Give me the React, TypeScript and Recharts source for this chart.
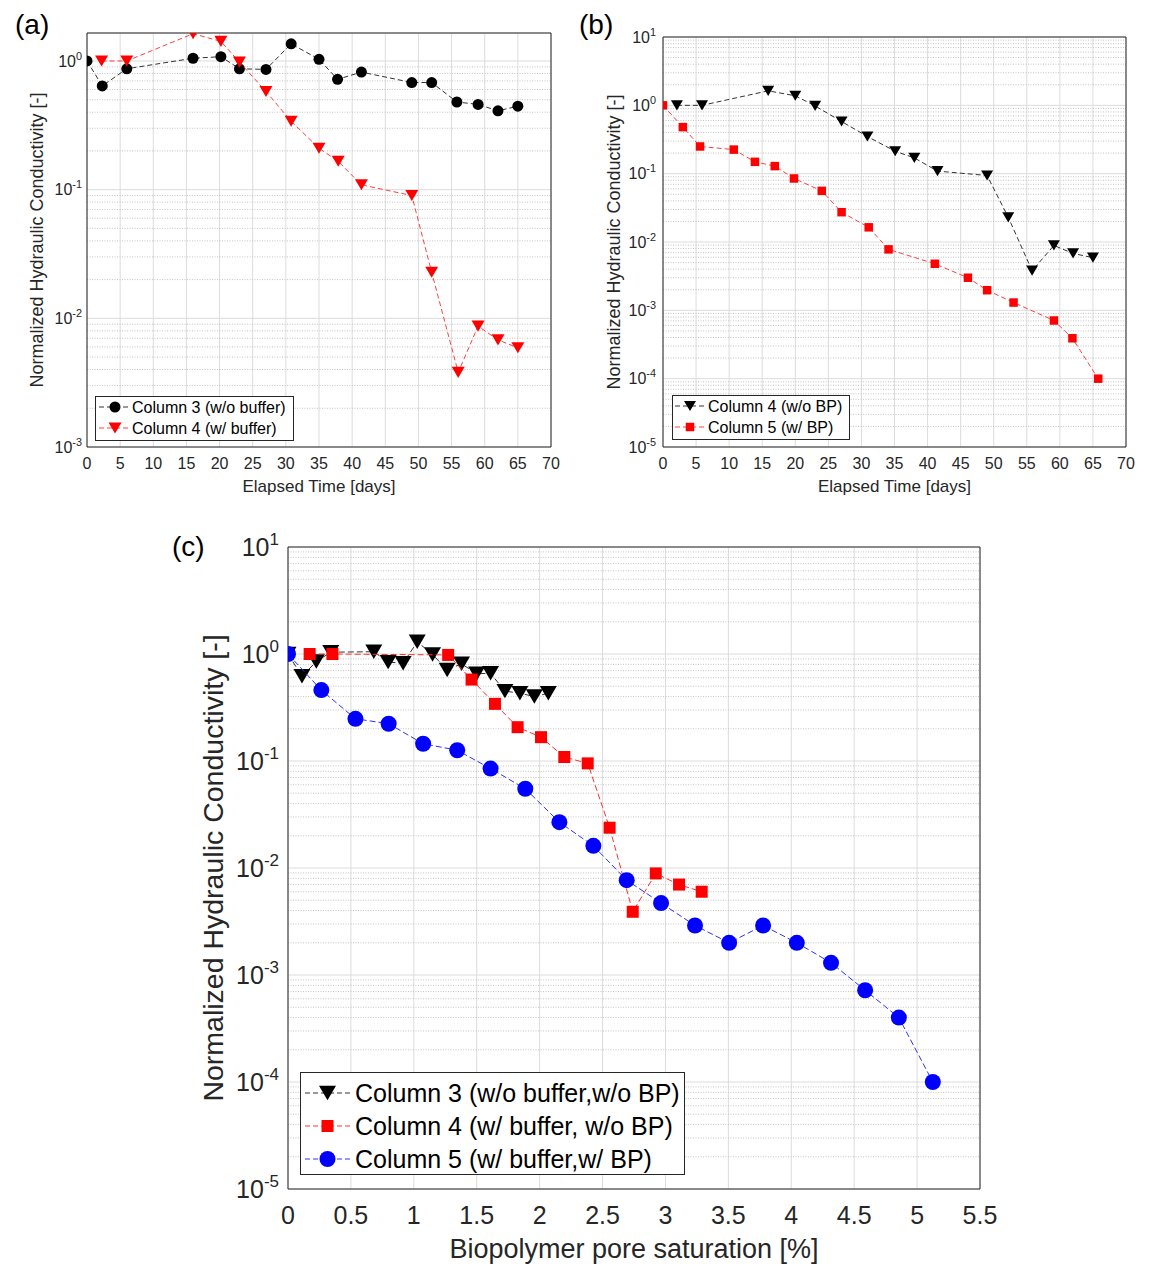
import React from "react";
import { ScatterChart, Scatter, XAxis, YAxis, CartesianGrid, ReferenceLine } from "recharts";

const FONT = '"Liberation Sans", Arial, Helvetica, sans-serif';
const AXIS = "#262626";

// (a) normalized K vs elapsed time, columns 3 and 4
const daysA3 = [0, 2.3, 6, 16, 20.2, 23, 27, 30.8, 35, 37.8, 41.4, 49, 52, 55.8, 59, 62, 65];
const kA3 = [1.0, 0.64, 0.87, 1.05, 1.08, 0.87, 0.86, 1.36, 1.03, 0.72, 0.82, 0.68, 0.68, 0.48, 0.46, 0.41, 0.445];
const daysA4 = [2.2, 6, 16, 20.2, 23, 27, 30.8, 35, 37.9, 41.4, 49, 52, 56, 59, 62, 65];
const kA4 = [1.0, 1.0, 1.63, 1.42, 0.98, 0.58, 0.34, 0.21, 0.166, 0.109, 0.09, 0.0228, 0.0038, 0.0087, 0.0068, 0.0059];

// (b) columns 4 and 5
const daysB4 = [2.1, 5.9, 15.9, 20, 23, 27, 30.9, 35.1, 38, 41.5, 49, 52.2, 55.8, 59.1, 62, 65];
const kB4 = [1.0, 1.0, 1.63, 1.38, 0.98, 0.58, 0.35, 0.213, 0.17, 0.109, 0.094, 0.023, 0.0038, 0.0089, 0.0068, 0.0059];
const daysB5 = [0, 3, 5.6, 10.7, 13.9, 16.9, 19.8, 24, 27, 31.1, 34.1, 41.1, 46.1, 49, 53, 59.1, 61.9, 65.8];
const kB5 = [1.0, 0.48, 0.25, 0.225, 0.149, 0.129, 0.085, 0.056, 0.0273, 0.0164, 0.0078, 0.0048, 0.003, 0.00197, 0.0013, 0.00071, 0.00039, 0.0001];

// (c) normalized K vs biopolymer pore saturation
const satC3 = [0, 0.111, 0.225, 0.34, 0.682, 0.796, 0.915, 1.027, 1.149, 1.265, 1.379, 1.499, 1.61, 1.724, 1.843, 1.958, 2.069];
const kC3 = [1.0, 0.62, 0.85, 1.04, 1.05, 0.84, 0.82, 1.3, 0.99, 0.71, 0.81, 0.655, 0.66, 0.45, 0.43, 0.4, 0.43];
const satC4 = [0.172, 0.353, 1.273, 1.459, 1.645, 1.825, 2.011, 2.196, 2.382, 2.556, 2.74, 2.923, 3.108, 3.288];
const kC4 = [1.0, 1.0, 0.98, 0.577, 0.342, 0.207, 0.167, 0.109, 0.095, 0.0238, 0.0039, 0.0089, 0.007, 0.006];
const satC5 = [0, 0.265, 0.536, 0.8, 1.074, 1.345, 1.61, 1.886, 2.157, 2.427, 2.692, 2.965, 3.235, 3.506, 3.776, 4.044, 4.316, 4.587, 4.855, 5.125];
const kC5 = [1.0, 0.46, 0.248, 0.223, 0.145, 0.126, 0.085, 0.055, 0.0268, 0.0161, 0.0077, 0.0047, 0.0029, 0.002, 0.0029, 0.002, 0.0013, 0.00072, 0.0004, 0.0001];

const dayTicks = [0, 5, 10, 15, 20, 25, 30, 35, 40, 45, 50, 55, 60, 65, 70];
const satTicks = [0, 0.5, 1, 1.5, 2, 2.5, 3, 3.5, 4, 4.5, 5, 5.5];
const decadesA = [1e-3, 1e-2, 1e-1, 1];
const decadesBC = [1e-5, 1e-4, 1e-3, 1e-2, 1e-1, 1, 10];

const kLabel = "Normalized Hydraulic Conductivity [-]";

type Pt = { x: number; y: number };
const zip = (xs: number[], ys: number[]): Pt[] => xs.map((x, i) => ({ x, y: ys[i] }));

// dotted minor grid at 2..9 x 10^e
const minorLines = (lo: number, hi: number) => {
  const out: number[] = [];
  for (let e = lo; e < hi; e++) for (let m = 2; m <= 9; m++) out.push(m * Math.pow(10, e));
  return out;
};

type Kind = "circle" | "tri" | "square";

function Marker({ kind, cx, cy, s, color }: { kind: Kind; cx: number; cy: number; s: number; color: string }) {
  if (kind === "circle") return <circle cx={cx} cy={cy} r={s / 2} fill={color} />;
  if (kind === "square") return <rect x={cx - s / 2} y={cy - s / 2} width={s} height={s} fill={color} />;
  const h = s * 0.85;
  return <path d={`M${cx - s / 2},${cy - h / 2}L${cx + s / 2},${cy - h / 2}L${cx},${cy + h / 2}Z`} fill={color} />;
}

function PowTick(props: any) {
  const { x, y, payload, fs } = props;
  const e = Math.round(Math.log10(payload.value));
  return (
    <text x={x} y={y} textAnchor="end" fontSize={fs} fill={AXIS} fontFamily={FONT}>
      <tspan dy={fs * 0.36}>10</tspan>
      <tspan dy={-fs * 0.45} fontSize={fs * 0.68}>{e}</tspan>
    </text>
  );
}

type Series = { pts: Pt[]; color: string; line: string; kind: Kind; size: number; dash: string };

interface PanelProps {
  w: number;
  h: number;
  margin: { top: number; right: number; bottom: number; left: number };
  yw: number;
  xh: number;
  xDomain: [number, number];
  xTicks: number[];
  yDomain: [number, number];
  yTicks: number[];
  minor: number[];
  fs: number;
  lfs: number;
  ylfs: number;
  xTickMargin: number;
  yTickMargin: number;
  xLabel: string;
  xLabelOffset: number;
  yLabelOffset: number;
  series: Series[];
}

function Panel(p: PanelProps) {
  return (
    <ScatterChart width={p.w} height={p.h} margin={p.margin}>
      <CartesianGrid stroke="#dcdcdc" strokeWidth={1} />
      {p.minor.map((v) => (
        <ReferenceLine key={v} y={v} stroke="#c4c4c4" strokeWidth={1} strokeDasharray="1 1.5" />
      ))}
      <XAxis
        type="number"
        dataKey="x"
        domain={p.xDomain}
        ticks={p.xTicks}
        interval={0}
        allowDataOverflow
        height={p.xh}
        tickSize={0}
        tickLine={false}
        tickMargin={p.xTickMargin}
        axisLine={{ stroke: AXIS, strokeWidth: 1 }}
        tick={{ fontSize: p.fs, fill: AXIS, fontFamily: FONT }}
        label={{
          value: p.xLabel,
          position: "insideBottom",
          offset: p.xLabelOffset,
          style: { fontSize: p.lfs, fill: AXIS, fontFamily: FONT },
        }}
      />
      <YAxis
        type="number"
        dataKey="y"
        scale="log"
        domain={p.yDomain}
        ticks={p.yTicks}
        interval={0}
        allowDataOverflow
        width={p.yw}
        tickSize={0}
        tickLine={false}
        tickMargin={p.yTickMargin}
        axisLine={{ stroke: AXIS, strokeWidth: 1 }}
        tick={<PowTick fs={p.fs} />}
        label={{
          value: kLabel,
          angle: -90,
          position: "insideLeft",
          offset: p.yLabelOffset,
          style: { fontSize: p.ylfs, fill: AXIS, fontFamily: FONT, textAnchor: "middle" },
        }}
      />
      {/* closing box, top and right edges */}
      <ReferenceLine y={p.yDomain[1]} stroke={AXIS} strokeWidth={1} />
      <ReferenceLine x={p.xDomain[1]} stroke={AXIS} strokeWidth={1} />
      {p.series.map((s, i) => (
        <Scatter
          key={i}
          data={s.pts}
          fill={s.color}
          isAnimationActive={false}
          line={{ stroke: s.line, strokeWidth: 1, strokeDasharray: s.dash }}
          shape={(sp: any) => <Marker kind={s.kind} cx={sp.cx} cy={sp.cy} s={s.size} color={s.color} />}
        />
      ))}
    </ScatterChart>
  );
}

type LegItem = { label: string; color: string; line: string; kind: Kind; size: number };

function LegendBox(props: {
  left: number;
  top: number;
  w: number;
  h: number;
  fs: number;
  rowH: number;
  firstRow: number;
  lineX: [number, number];
  textX: number;
  items: LegItem[];
}) {
  const { left, top, w, h, fs, rowH, firstRow, lineX, textX, items } = props;
  const mx = (lineX[0] + lineX[1]) / 2;
  return (
    <svg style={{ position: "absolute", left, top }} width={w + 2} height={h + 2}>
      <rect x={0.5} y={0.5} width={w} height={h} fill="#fff" stroke={AXIS} strokeWidth={1} />
      {items.map((it, i) => {
        const cy = firstRow + i * rowH;
        return (
          <g key={it.label}>
            <line x1={lineX[0]} x2={lineX[1]} y1={cy} y2={cy} stroke={it.line} strokeWidth={1} strokeDasharray="5 3" />
            <Marker kind={it.kind} cx={mx} cy={cy} s={it.size} color={it.color} />
            <text x={textX} y={cy + fs * 0.36} fontSize={fs} fontFamily={FONT} fill="#000">
              {it.label}
            </text>
          </g>
        );
      })}
    </svg>
  );
}

const letterStyle: React.CSSProperties = {
  position: "absolute",
  fontFamily: FONT,
  fontSize: 28,
  color: "#000",
  lineHeight: "28px",
};

export default function App() {
  const seriesA: Series[] = [
    { pts: zip(daysA3, kA3), color: "#000000", line: "#333333", kind: "circle", size: 11, dash: "5 3" },
    { pts: zip(daysA4, kA4), color: "#ff0000", line: "#ff4040", kind: "tri", size: 13, dash: "5 3" },
  ];
  const seriesB: Series[] = [
    { pts: zip(daysB4, kB4), color: "#000000", line: "#333333", kind: "tri", size: 12, dash: "5 3" },
    { pts: zip(daysB5, kB5), color: "#ff0000", line: "#ff4040", kind: "square", size: 8.5, dash: "5 3" },
  ];
  const seriesC: Series[] = [
    { pts: zip(satC3, kC3), color: "#000000", line: "#333333", kind: "tri", size: 17, dash: "6 3" },
    { pts: zip(satC4, kC4), color: "#ff0000", line: "#ff3030", kind: "square", size: 12, dash: "6 3" },
    { pts: zip(satC5, kC5), color: "#0000ff", line: "#3030ff", kind: "circle", size: 16, dash: "6 3" },
  ];

  return (
    <div style={{ position: "absolute", left: 0, top: 0, width: 1154, height: 1268, background: "#fff", fontFamily: FONT }}>
      <div style={{ ...letterStyle, left: 15, top: 11 }}>(a)</div>
      <div style={{ ...letterStyle, left: 579, top: 11 }}>(b)</div>
      <div style={{ ...letterStyle, left: 172, top: 533 }}>(c)</div>

      <div style={{ position: "absolute", left: 0, top: 0 }}>
        <Panel
          w={570}
          h={510}
          margin={{ top: 33, right: 19, bottom: 13, left: 0 }}
          yw={87}
          xh={50}
          xDomain={[0, 70]}
          xTicks={dayTicks}
          yDomain={[0.001, 1.65]}
          yTicks={decadesA}
          minor={minorLines(-3, 0)}
          fs={16}
          lfs={17}
          ylfs={18}
          xTickMargin={11}
          yTickMargin={5}
          xLabel="Elapsed Time [days]"
          xLabelOffset={5}
          yLabelOffset={37}
          series={seriesA}
        />
      </div>
      <LegendBox
        left={95}
        top={396}
        w={198}
        h={44}
        fs={16}
        rowH={21}
        firstRow={11}
        lineX={[4, 36]}
        textX={37}
        items={[
          { label: "Column 3 (w/o buffer)", color: "#000000", line: "#333333", kind: "circle", size: 11 },
          { label: "Column 4 (w/ buffer)", color: "#ff0000", line: "#ff4040", kind: "tri", size: 13 },
        ]}
      />

      <div style={{ position: "absolute", left: 575, top: 0 }}>
        <Panel
          w={579}
          h={510}
          margin={{ top: 37, right: 28, bottom: 13, left: 0 }}
          yw={88}
          xh={50}
          xDomain={[0, 70]}
          xTicks={dayTicks}
          yDomain={[1e-5, 10]}
          yTicks={decadesBC}
          minor={minorLines(-5, 1)}
          fs={16}
          lfs={17}
          ylfs={18}
          xTickMargin={11}
          yTickMargin={7}
          xLabel="Elapsed Time [days]"
          xLabelOffset={5}
          yLabelOffset={39}
          series={seriesB}
        />
      </div>
      <LegendBox
        left={672}
        top={395}
        w={177}
        h={44}
        fs={16}
        rowH={21}
        firstRow={11}
        lineX={[3, 33]}
        textX={36}
        items={[
          { label: "Column 4 (w/o BP)", color: "#000000", line: "#333333", kind: "tri", size: 12 },
          { label: "Column 5 (w/ BP)", color: "#ff0000", line: "#ff4040", kind: "square", size: 8.5 },
        ]}
      />

      <div style={{ position: "absolute", left: 170, top: 520 }}>
        <Panel
          w={830}
          h={748}
          margin={{ top: 27, right: 20, bottom: 9, left: 0 }}
          yw={118}
          xh={70}
          xDomain={[0, 5.5]}
          xTicks={satTicks}
          yDomain={[1e-5, 10]}
          yTicks={decadesBC}
          minor={minorLines(-5, 1)}
          fs={25}
          lfs={27}
          ylfs={28.5}
          xTickMargin={17}
          yTickMargin={9}
          xLabel="Biopolymer pore saturation [%]"
          xLabelOffset={1}
          yLabelOffset={43}
          series={seriesC}
        />
      </div>
      <LegendBox
        left={300}
        top={1072}
        w={384}
        h={102}
        fs={25}
        rowH={33}
        firstRow={21}
        lineX={[5, 50]}
        textX={55}
        items={[
          { label: "Column 3 (w/o buffer,w/o BP)", color: "#000000", line: "#333333", kind: "tri", size: 17 },
          { label: "Column 4 (w/ buffer, w/o BP)", color: "#ff0000", line: "#ff3030", kind: "square", size: 12 },
          { label: "Column 5 (w/ buffer,w/ BP)", color: "#0000ff", line: "#3030ff", kind: "circle", size: 16 },
        ]}
      />
    </div>
  );
}
